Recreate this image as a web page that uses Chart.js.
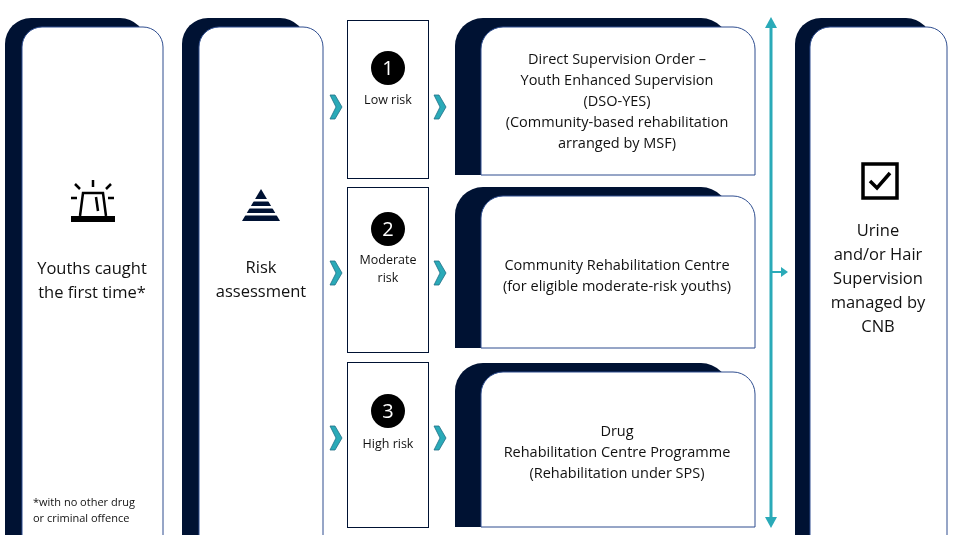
<!DOCTYPE html>
<html><head><meta charset="utf-8">
<script src="https://cdn.jsdelivr.net/npm/chart.js@4"></script>
<style>html,body{margin:0;background:#fff}#wrap{width:954px;height:535px}</style>
</head><body><div id="wrap"><canvas id="c"></canvas></div>
<script>
const startLabel = ["Youths caught", "the first time*"];
const footnote = ["*with no other drug", "or criminal offence"];
const assessLabel = ["Risk", "assessment"];
const riskLevels = ["1", "2", "3"];
const riskLabels = [["Low risk"], ["Moderate", "risk"], ["High risk"]];
const outcomes = [
  ["Direct Supervision Order \u2013", "Youth Enhanced Supervision", "(DSO-YES)", "(Community-based rehabilitation", "arranged by MSF)"],
  ["Community Rehabilitation Centre", "(for eligible moderate-risk youths)"],
  ["Drug", "Rehabilitation Centre Programme", "(Rehabilitation under SPS)"]
];
const endLabel = ["Urine", "and/or Hair", "Supervision", "managed by", "CNB"];

const NAVY = "#001233", EDGE = "#2e4d8f", TEAL = "#2aaab8";
const FONT = "'Open Sans', Lato, sans-serif";

function topRound(ctx, x, y, w, h, r) {
  ctx.beginPath();
  ctx.moveTo(x, y + h); ctx.lineTo(x, y + r);
  ctx.arcTo(x, y, x + r, y, r); ctx.lineTo(x + w - r, y);
  ctx.arcTo(x + w, y, x + w, y + r, r); ctx.lineTo(x + w, y + h);
}
function card(ctx, bx, by, fx, fy, fw, fh, r, closed) {
  topRound(ctx, bx, by, fw, fh + (fy - by), r + 6);
  ctx.closePath(); ctx.fillStyle = NAVY; ctx.fill();
  topRound(ctx, fx, fy, fw, fh, r);
  if (closed) ctx.closePath();
  ctx.fillStyle = "#fff"; ctx.fill();
  ctx.strokeStyle = EDGE; ctx.lineWidth = 1; ctx.stroke();
}
function lines(ctx, arr, cx, cy, size, lh) {
  ctx.font = size + "px " + FONT; ctx.fillStyle = "#111";
  ctx.textAlign = "center"; ctx.textBaseline = "middle";
  const y0 = cy - (arr.length - 1) * lh / 2;
  arr.forEach((t, i) => ctx.fillText(t, cx, y0 + i * lh));
}
function chevron(ctx, x, y) {
  ctx.beginPath();
  ctx.moveTo(x, y - 12); ctx.lineTo(x + 5, y - 12); ctx.lineTo(x + 12, y);
  ctx.lineTo(x + 5, y + 12); ctx.lineTo(x, y + 12); ctx.lineTo(x + 6, y);
  ctx.closePath(); ctx.fillStyle = TEAL; ctx.fill();
  ctx.strokeStyle = "#1f6f86"; ctx.lineWidth = 0.8; ctx.stroke();
}

const diagram = {
  id: "diagram",
  afterDraw(chart) {
    const ctx = chart.ctx;
    ctx.save();
    card(ctx, 5, 18, 22, 27, 141, 510, 20);
    // siren icon
    ctx.strokeStyle = "#000"; ctx.fillStyle = "#000"; ctx.lineWidth = 2.5;
    ctx.fillRect(71, 216, 44, 6);
    ctx.beginPath(); ctx.moveTo(80, 216); ctx.lineTo(83, 193); ctx.lineTo(103, 193); ctx.lineTo(106, 216); ctx.stroke();
    ctx.beginPath(); ctx.moveTo(96, 197); ctx.lineTo(98, 211); ctx.stroke();
    ctx.beginPath();
    ctx.moveTo(93, 180); ctx.lineTo(93, 187);
    ctx.moveTo(75, 184); ctx.lineTo(80, 189); ctx.moveTo(111, 184); ctx.lineTo(106, 189);
    ctx.moveTo(71, 198); ctx.lineTo(77, 198); ctx.moveTo(108, 198); ctx.lineTo(114, 198);
    ctx.stroke();
    lines(ctx, startLabel, 92, 281, 16.5, 24);
    ctx.textAlign = "left";
    ctx.font = "11px " + FONT; ctx.fillStyle = "#111";
    ctx.fillText(footnote[0], 33, 503); ctx.fillText(footnote[1], 33, 519);

    card(ctx, 182, 18, 199, 27, 124, 510, 20);
    ctx.beginPath(); ctx.moveTo(261, 189); ctx.lineTo(280, 221); ctx.lineTo(242, 221); ctx.closePath();
    ctx.fillStyle = NAVY; ctx.fill();
    ctx.fillStyle = "#fff";
    [199, 206, 213].forEach(y => ctx.fillRect(240, y, 44, 2.5));
    lines(ctx, assessLabel, 261, 280, 16.5, 24);

    const rows = [[20, 178, 107, 18, 157], [187, 352, 273, 187, 161], [362, 527, 438, 363, 164]];
    rows.forEach((r, i) => {
      const [top, bot, mid, ctop, ch] = r;
      ctx.fillStyle = "#fff"; ctx.fillRect(347, top, 81, bot - top);
      ctx.strokeStyle = NAVY; ctx.lineWidth = 1; ctx.strokeRect(347.5, top + 0.5, 81, bot - top);
      const cy = i === 0 ? 68 : (i === 1 ? 229 : 411);
      ctx.beginPath(); ctx.arc(388, cy, 17, 0, Math.PI * 2); ctx.fillStyle = "#000"; ctx.fill();
      ctx.fillStyle = "#fff"; ctx.font = "20px " + FONT; ctx.textAlign = "center"; ctx.textBaseline = "middle";
      ctx.fillText(riskLevels[i], 388, cy + 1);
      lines(ctx, riskLabels[i], 388, i === 0 ? 100 : (i === 1 ? 269 : 444), 12.5, 18);
      chevron(ctx, 330, mid); chevron(ctx, 434, mid);
      card(ctx, 455, ctop, 481, ctop + 9, 274, ch - 9, 22, true);
      lines(ctx, outcomes[i], 617, i === 0 ? 102 : (i === 1 ? 276 : 453), 14.5, 21);
    });

    ctx.strokeStyle = TEAL; ctx.fillStyle = TEAL; ctx.lineWidth = 3;
    ctx.beginPath(); ctx.moveTo(771, 26); ctx.lineTo(771, 519); ctx.stroke();
    ctx.beginPath(); ctx.moveTo(771, 17); ctx.lineTo(765, 28); ctx.lineTo(777, 28); ctx.closePath(); ctx.fill();
    ctx.beginPath(); ctx.moveTo(771, 528); ctx.lineTo(765, 517); ctx.lineTo(777, 517); ctx.closePath(); ctx.fill();
    ctx.lineWidth = 2;
    ctx.beginPath(); ctx.moveTo(772, 272); ctx.lineTo(782, 272); ctx.stroke();
    ctx.beginPath(); ctx.moveTo(788, 272); ctx.lineTo(781, 267); ctx.lineTo(781, 277); ctx.closePath(); ctx.fill();

    card(ctx, 795, 18, 810, 27, 137, 510, 20);
    ctx.strokeStyle = "#000"; ctx.lineWidth = 3.5;
    ctx.strokeRect(863, 164, 34, 34);
    ctx.beginPath(); ctx.moveTo(870, 181); ctx.lineTo(877, 188); ctx.lineTo(890, 173); ctx.stroke();
    lines(ctx, endLabel, 878, 279, 16.5, 24);
    ctx.restore();
  }
};

new Chart(document.getElementById("c"), {
  type: "bar",
  data: { labels: [""], datasets: [{ data: [] }] },
  options: {
    responsive: true, maintainAspectRatio: false, animation: false,
    plugins: { legend: { display: false }, tooltip: { enabled: false } },
    scales: { x: { display: false }, y: { display: false } }
  },
  plugins: [diagram]
});
</script></body></html>
